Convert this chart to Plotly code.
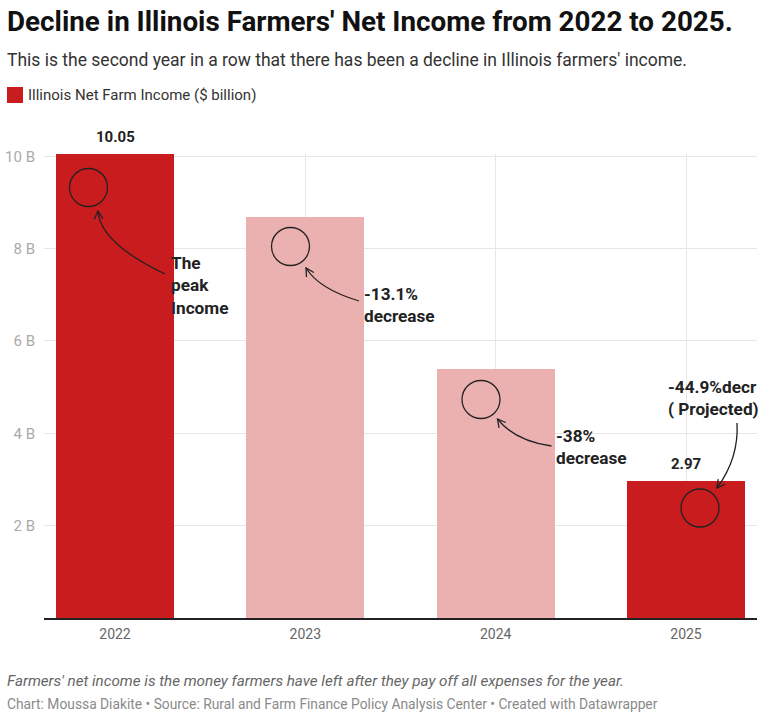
import math
import plotly.graph_objects as go

# data
years = ["2022", "2023", "2024", "2025"]
income = [10.05, 8.69, 5.39, 2.97]          # $ billion
show_value = [True, False, False, True]
y_ticks = [2, 4, 6, 8, 10]
notes = ["The<br>peak<br>Income", "-13.1%<br>decrease", "-38%<br>decrease",
         "-44.9%decr<br>( Projected)"]

title = "Decline in Illinois Farmers' Net Income from 2022 to 2025."
subtitle = "This is the second year in a row that there has been a decline in Illinois farmers' income."
legend_label = "Illinois Net Farm Income ($ billion)"
footnote = "Farmers' net income is the money farmers have left after they pay off all expenses for the year."
source = "Chart: Moussa Diakite • Source: Rural and Farm Finance Policy Analysis Center • Created with Datawrapper"

RED = "#c81c1e"
PINK = "#ebb1b1"
bar_colors = [RED, PINK, PINK, RED]
FONT = "Roboto"

W, H = 764, 720
ML, MR, MT, MB = 44, 7, 154, 102
PW, PH = W - ML - MR, H - MT - MB


def px(x, y):
    # pixel position -> paper coords
    return (x - ML) / PW, 1 - (y - MT) / PH


fig = go.Figure()
fig.add_trace(go.Bar(
    x=list(range(len(years))), y=income, width=0.62,
    marker=dict(color=bar_colors, line=dict(width=0)),
    hoverinfo="skip", showlegend=False,
))

annotations = []
shapes = []

# value labels above bars
for i, (v, s) in enumerate(zip(income, show_value)):
    if s:
        annotations.append(dict(x=i, y=v, xref="x", yref="y", text=f"<b>{v:.2f}</b>",
                                showarrow=False, yanchor="bottom", yshift=6,
                                font=dict(family=FONT, size=15, color="#222")))


def text_at(x, y, txt, size, color, anchor="middle", italic=False, bold=False):
    xp, yp = px(x, y)
    if bold:
        txt = f"<b>{txt}</b>"
    if italic:
        txt = f"<i>{txt}</i>"
    annotations.append(dict(x=xp, y=yp, xref="paper", yref="paper", text=txt,
                            showarrow=False, xanchor="left", yanchor=anchor, align="left",
                            font=dict(family=FONT, size=size, color=color)))

text_at(5, 21, title, 27.8, "#111", bold=True)
text_at(5, 60, subtitle, 17.5, "#333")
text_at(26, 95, legend_label, 15, "#333")
text_at(5, 681, footnote, 15.2, "#666", italic=True)
text_at(5, 704, source, 13.8, "#8a8a8a")

x0, y0 = px(7, 87)
x1, y1 = px(23, 103)
shapes.append(dict(type="rect", xref="paper", yref="paper", x0=x0, y0=y1, x1=x1, y1=y0,
                   fillcolor=RED, line=dict(width=0)))

# callouts: circle centre, text left/centre, curve start, control, tip
callouts = [
    ((88.5, 187.5), (169, 285), (165, 274), (100, 243), (98, 211)),
    ((290.5, 246.5), (362, 304.5), (359, 301), (319, 289), (306, 268)),
    ((481, 399.5), (554, 447), (551.5, 446), (515, 441), (497.5, 419)),
    ((700, 508), (666, 397.5), (737, 423), (739, 458), (717, 488)),
]
R = 19
LINE = dict(color="#222", width=1.3)
for note, (c, t, p0, cp, p2) in zip(notes, callouts):
    a, b = px(c[0] - R, c[1] + R)
    d, e = px(c[0] + R, c[1] - R)
    shapes.append(dict(type="circle", xref="paper", yref="paper", x0=a, y0=b, x1=d, y1=e,
                       line=LINE))
    s0, s2, sc = px(*p0), px(*p2), px(*cp)
    shapes.append(dict(type="path", xref="paper", yref="paper", line=LINE,
                       path=f"M {s0[0]},{s0[1]} Q {sc[0]},{sc[1]} {s2[0]},{s2[1]}"))
    # open arrow head
    ang = math.atan2(cp[1] - p2[1], cp[0] - p2[0])
    pts = []
    for da in (0.5, -0.5):
        pts.append(px(p2[0] + 9 * math.cos(ang + da), p2[1] + 9 * math.sin(ang + da)))
    tip = px(*p2)
    shapes.append(dict(type="path", xref="paper", yref="paper", line=LINE,
                       path=f"M {pts[0][0]},{pts[0][1]} L {tip[0]},{tip[1]} L {pts[1][0]},{pts[1][1]}"))
    text_at(t[0], t[1], note, 17.2, "#222", bold=True)

fig.update_layout(
    width=W, height=H,
    margin=dict(l=ML, r=MR, t=MT, b=MB, autoexpand=False),
    paper_bgcolor="white", plot_bgcolor="white",
    font=dict(family=FONT),
    bargap=0,
    xaxis=dict(range=[-0.373, 3.373], tickvals=list(range(len(years))), ticktext=years,
               showgrid=True, gridcolor="#e6e6e6", gridwidth=1, zeroline=False,
               showline=True, linecolor="#222", linewidth=1.5, ticks="",
               ticklabelstandoff=2, automargin=False,
               tickfont=dict(family=FONT, size=14, color="#666"), fixedrange=True),
    yaxis=dict(range=[0, 10.05], tickvals=y_ticks, ticktext=[f"{v} B" for v in y_ticks],
               showgrid=True, gridcolor="#e6e6e6", gridwidth=1, zeroline=False,
               showline=False, ticks="", ticklabelstandoff=8, automargin=False,
               tickfont=dict(family=FONT, size=15, color="#aaa"), fixedrange=True),
    annotations=annotations,
    shapes=shapes,
)

# drop the page's default 8px body margin so the figure sits at the window's corner
fig.write_html("out.html", config={"displayModeBar": False},
               post_script="document.body.style.margin='0';")
